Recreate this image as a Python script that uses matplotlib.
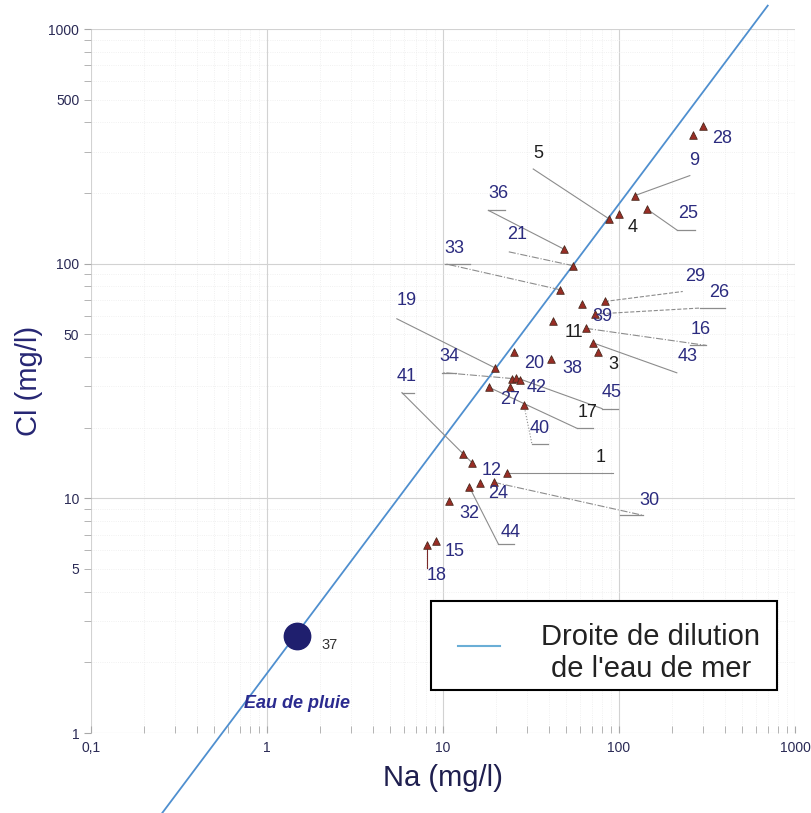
import matplotlib
matplotlib.use('Agg')
import matplotlib.pyplot as plt
from matplotlib.patches import Rectangle
from matplotlib.ticker import FixedLocator, FuncFormatter, LogLocator, NullFormatter

plt.rcParams['font.family'] = ['Liberation Sans', 'DejaVu Sans']

# Sea water composition (mg/l), used for the dilution line
na_sea = 10770.0
cl_sea = 19350.0
na_line = [0.25, 700.0]

# Samples (mg/l)
ids = ['28', '', '9', '25', '4', '5', '36', '21', '33', '39', '29', '11', '26', '16',
       '43', '3', '20', '38', '19', '34', '45', '42', '17', '27', '40', '12', '41',
       '1', '44', '24', '30', '32', '15', '18']
na = [300, 263, 123, 144, 100, 88, 49, 55, 46, 62, 83, 42, 73, 65,
      71, 76, 25.3, 41, 19.7, 24.7, 26, 27.4, 18.3, 24, 28.8, 13, 14.6,
      23.1, 14.1, 16.2, 19.5, 10.8, 9.1, 8.1]
cl = [387, 354, 195, 171, 163, 155, 115, 98, 77.5, 67, 69, 57, 61, 53,
      46, 42, 42, 39.4, 36, 32.4, 32.7, 31.8, 29.7, 29.7, 25.1, 15.4, 14.2,
      12.8, 11.2, 11.6, 11.7, 9.7, 6.6, 6.3]

# Rain water
rain_id = '37'
na_rain = 1.48
cl_rain = 2.6

# label layout in pixels: (text dx, dy, leader end dx, dy, underline length, linestyle)
NAVY = '#2b2b7f'
DARK = '#1e1e1e'
layout = {
    '28': (19, -13, None, None, 0, '-'),
    '9': (59, 35, 55, 20, 0, '-'),
    '25': (41, -5, 30, -21, 18, '-'),
    '4': (14, -14, None, None, 0, '-'),
    '5': (-71, 66, -76, 50, 0, '-'),
    '36': (-66, 56, -76, 39, 17, '-'),
    '21': (-56, 31, -65, 14, 0, '-.'),
    '33': (-105, 41, -115, 26, 25, '-.'),
    '39': (20, -12, None, None, 0, '-'),
    '29': (90, 25, 78, 10, 0, '--'),
    '11': (21, -12, None, None, 0, '-'),
    '26': (124, 22, 105, 6, 25, '--'),
    '16': (115, -1, 120, -17, -16, '-.'),
    '43': (95, -14, 84, -30, 0, '-'),
    '3': (15, -12, None, None, 0, '-'),
    '20': (20, -11, None, None, 0, '-'),
    '38': (21, -10, None, None, 0, '-'),
    '19': (-88, 67, -98, 49, 0, '-'),
    '34': (-63, 22, -70, 6, 14, '-.'),
    '45': (96, -15, 86, -31, 16, '-'),
    '42': (17, -7, None, None, 0, '-'),
    '17': (98, -25, 88, -41, 16, '-'),
    '27': (0, -12, None, None, 0, '-'),
    '40': (16, -24, 8, -39, 16, ':'),
    '12': (29, -16, None, None, 0, '-'),
    '41': (-65, 86, -70, 70, 12, '-'),
    '1': (94, 16, 106, 0, 0, '-'),
    '44': (41, -46, 29, -57, 16, '-'),
    '24': (18, -10, None, None, 0, '-'),
    '30': (155, -18, 149, -33, -23, '-.'),
    '32': (20, -12, None, None, 0, '-'),
    '15': (19, -11, None, None, 0, '-'),
    '18': (10, -30, 0, -23, 0, '-'),
}
dark_labels = ['5', '4', '11', '3', '17', '1']

fig = plt.figure(figsize=(8.12, 8.13), dpi=100)
ax = fig.add_axes([91 / 812, 80 / 813, 704 / 812, 704 / 813])
ax.set_xscale('log')
ax.set_yscale('log')
ax.set_xlim(0.1, 1000)
ax.set_ylim(1, 1000)

ax.xaxis.set_major_locator(FixedLocator([0.1, 1, 10, 100, 1000]))
ax.xaxis.set_major_formatter(FuncFormatter(lambda v, p: '0,1' if v < 1 else '%d' % round(v)))
ax.xaxis.set_minor_locator(LogLocator(base=10, subs=range(2, 10)))
ax.xaxis.set_minor_formatter(NullFormatter())
ax.yaxis.set_major_locator(FixedLocator([1, 10, 100, 1000]))
ax.yaxis.set_major_formatter(FuncFormatter(lambda v, p: '%d' % round(v)))
ax.yaxis.set_minor_locator(LogLocator(base=10, subs=range(2, 10)))
ax.yaxis.set_minor_formatter(FuncFormatter(
    lambda v, p: '%d' % round(v) if round(v) in (5, 50, 500) else ''))

ax.tick_params(which='both', colors='#a8a8a8', labelcolor='#2a2a55', labelsize=10)
ax.tick_params(axis='x', which='both', direction='in', length=5, pad=6)
ax.tick_params(axis='y', which='both', direction='out', length=5)
for s in ax.spines.values():
    s.set_visible(False)
ax.grid(which='major', color='#d2d2d2', lw=0.8)
ax.grid(which='minor', color='#ececec', lw=0.6, linestyle=':')
ax.set_axisbelow(True)

# dilution line of sea water
cl_line = [v * cl_sea / na_sea for v in na_line]
ax.plot(na_line, cl_line, color='#4f8fcf', lw=1.3, clip_on=False, zorder=2)

ax.scatter(na, cl, marker='^', s=30, facecolor='#9a2d25', edgecolor='#4b2a1e',
           linewidths=0.6, zorder=4)
ax.plot([na_rain], [cl_rain], 'o', ms=19, color='#1f1f6e', zorder=4)
ax.annotate(rain_id, (na_rain, cl_rain), xytext=(33, -9), textcoords='offset pixels',
            ha='center', va='center', fontsize=10.5, color='#333333')
ax.text(na_rain, 1.34, 'Eau de pluie', ha='center', va='center', fontsize=13,
        fontweight='bold', fontstyle='italic', color='#2b2b8f')


def shift(x, y, dx, dy):
    px, py = ax.transData.transform((x, y))
    return ax.transData.inverted().transform((px + dx, py + dy))


for lab, x, y in zip(ids, na, cl):
    if lab == '':
        continue
    tdx, tdy, ldx, ldy, ul, ls = layout[lab]
    col = DARK if lab in dark_labels else NAVY
    ax.annotate(lab, (x, y), xytext=(tdx, tdy), textcoords='offset pixels',
                ha='center', va='center', fontsize=13, color=col, zorder=5)
    if ldx is None:
        continue
    lc = '#7a2a2a' if lab == '18' else '#8c8c8c'
    ex, ey = shift(x, y, ldx, ldy)
    ax.plot([x, ex], [y, ey], color=lc, lw=0.8, linestyle=ls, zorder=3)
    if ul:
        ux, uy = shift(x, y, ldx + ul, ldy)
        ax.plot([ex, ux], [ey, uy], color='#8c8c8c', lw=0.9, zorder=3)

ax.set_xlabel('Na (mg/l)', fontsize=21, color='#1f1f4f', labelpad=6)
ax.set_ylabel('Cl (mg/l)', fontsize=21, color='#262673', labelpad=4)

# legend box
ax.add_patch(Rectangle((0.483, 0.061), 0.491, 0.1265, transform=ax.transAxes,
                       facecolor='white', edgecolor='black', lw=1.5, zorder=6))
ax.plot([0.521, 0.581], [0.1236, 0.1236], transform=ax.transAxes,
        color='#6aaed6', lw=1.5, zorder=7)
ax.text(0.795, 0.1136, "Droite de dilution\nde l'eau de mer", transform=ax.transAxes,
        ha='center', va='center', multialignment='center', linespacing=1.22,
        fontsize=21, color='#222222', zorder=7)

fig.savefig('out.png', dpi=100)
